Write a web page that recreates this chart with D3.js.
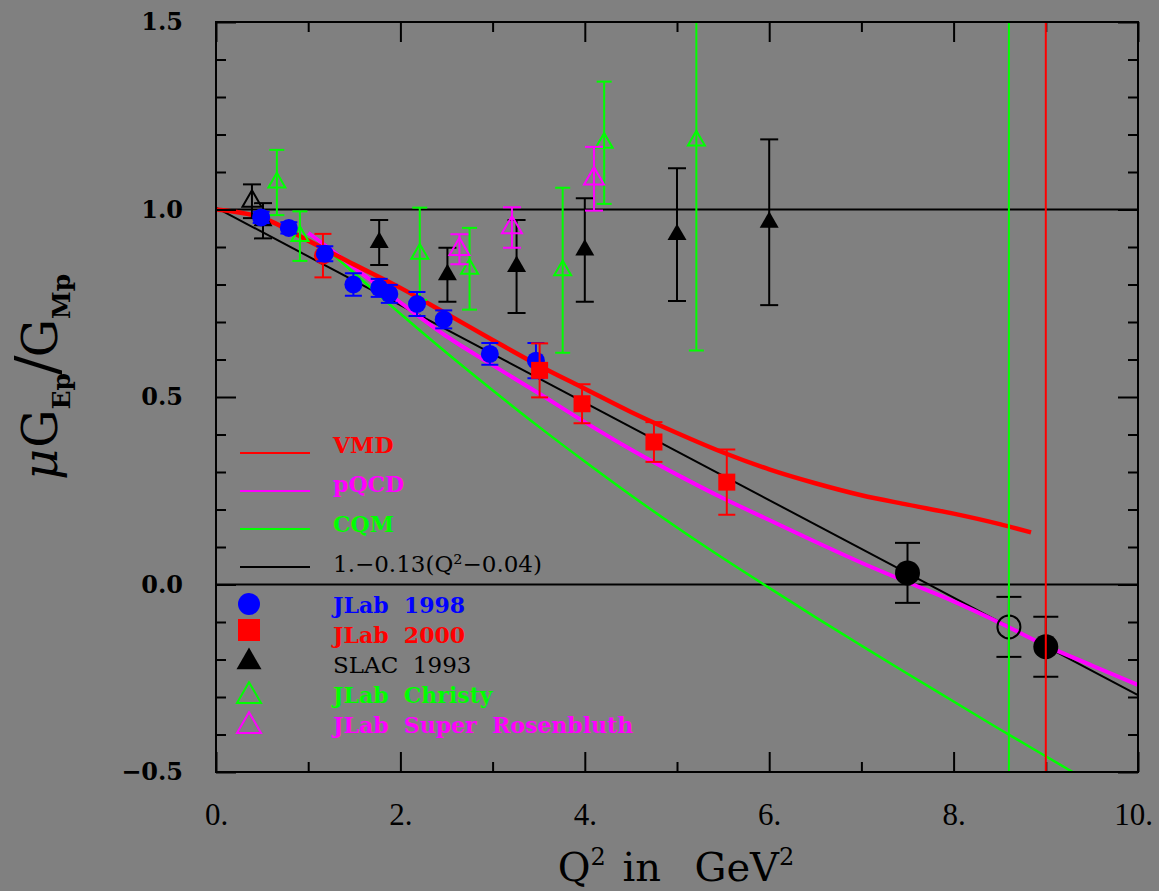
<!DOCTYPE html>
<html>
<head>
<meta charset="utf-8">
<script src="https://cdn.jsdelivr.net/npm/d3@7"></script>
<style>
    body { margin: 0; background: #808080; }
    svg { display: block; }
</style>
</head>
<body>
<div id="chart"></div>
<script>
const width = 1159, height = 891
const margin = ({top: 22, right: 21, bottom: 119, left: 216})

// axes
const xMajorTicks = [0, 2, 4, 6, 8, 10]
const xTickLabels = ["0.", "2.", "4.", "6.", "8.", "10."]
const yMajorTicks = [-0.5, 0, 0.5, 1, 1.5]
const yTickLabels = ["\u22120.5", "0.0", "0.5", "1.0", "1.5"]

// theory curves, [Q2, mu*GE/GM]
const vmdCurve = [[0, 1.0], [0.5, 0.978], [1.0, 0.917], [1.5, 0.853], [2.0, 0.791], [2.5, 0.722], [3.0, 0.652],
    [3.5, 0.584], [4.0, 0.522], [4.5, 0.46], [5.0, 0.404], [5.5, 0.352], [6.0, 0.307], [6.5, 0.27],
    [7.0, 0.238], [7.5, 0.213], [8.0, 0.189], [8.5, 0.161], [8.84, 0.139]]
const pqcdCurve = [[1.0, 0.938], [1.5, 0.845], [2.0, 0.752], [2.5, 0.662], [3.0, 0.585], [3.5, 0.51], [4.0, 0.433],
    [4.5, 0.36], [5.0, 0.293], [5.5, 0.23], [6.0, 0.172], [6.5, 0.114], [7.0, 0.058], [7.5, 0.006],
    [8.0, -0.045], [8.5, -0.102], [9.0, -0.163], [9.5, -0.216], [10.0, -0.268]]
const cqmCurve = [[1.0, 0.938], [1.5, 0.83], [2.0, 0.722], [2.5, 0.618], [3.0, 0.518], [3.5, 0.421], [4.0, 0.328],
    [4.5, 0.238], [5.0, 0.152], [5.5, 0.07], [6.0, -0.009], [6.5, -0.087], [7.0, -0.163], [7.5, -0.238],
    [8.0, -0.312], [8.5, -0.386], [9.0, -0.458], [9.5, -0.53]]
const fitLine = [[0, 1.005], [10, -0.295]]

// data points, [Q2, ratio, error]
const jlab1998 = [[0.49, 0.979, 0.015], [0.79, 0.951, 0.015], [1.18, 0.882, 0.02], [1.49, 0.800, 0.03],
    [1.77, 0.791, 0.024], [1.88, 0.775, 0.024], [2.18, 0.748, 0.032], [2.47, 0.707, 0.024],
    [2.97, 0.615, 0.029], [3.47, 0.597, 0.047]]
const jlab2000Low = [[1.16, 0.877, 0.058]]
const jlab2000 = [[3.51, 0.571, 0.072], [3.97, 0.482, 0.052], [4.75, 0.380, 0.053], [5.54, 0.273, 0.087]]
const slac1993 = [[0.51, 0.970, 0.047], [1.77, 0.912, 0.06], [2.51, 0.826, 0.072], [3.26, 0.848, 0.124],
    [4.00, 0.892, 0.138], [5.00, 0.933, 0.177], [6.00, 0.966, 0.221]]
const slacOpen = [[0.39, 1.022, 0.045]]
const christy = [[0.66, 1.072, 0.087], [0.91, 0.929, 0.066], [2.21, 0.882, 0.123], [2.75, 0.842, 0.109],
    [3.76, 0.838, 0.22], [4.21, 1.178, 0.163], [5.21, 1.184, 0.56]]
const superRosenbluth = [[2.64, 0.894, 0.04], [3.21, 0.952, 0.054], [4.10, 1.082, 0.085]]
const projectedFilled = [[7.50, 0.031, 0.08], [9.00, -0.166, 0.08]]
const projectedOpen = [[8.60, -0.113, 0.08]]

const hLines = [1.0, 0.0]
const vLines = [8.6, 9.0]

const curveLabels = ["VMD", "pQCD", "CQM", "1.\u22120.13(Q\u00b2\u22120.04)"]
const pointLabels = ["JLab\u00a0\u00a01998", "JLab\u00a0\u00a02000", "SLAC\u00a0\u00a01993", "JLab\u00a0\u00a0Christy",
    "JLab\u00a0\u00a0Super\u00a0\u00a0Rosenbluth"]

const serif = "'DejaVu Serif', 'Liberation Serif', serif"

const xScale = d3.scaleLinear().domain([0, 10]).range([margin.left, width - margin.right])
const yScale = d3.scaleLinear().domain([-0.5, 1.5]).range([height - margin.bottom, margin.top])
// error bars that run off the frame stop at its edge
const yClamped = yScale.copy().clamp(true)

const svg = d3.select("#chart").append("svg")
    .attr("width", width)
    .attr("height", height)

svg.append("rect")
    .attr("width", width).attr("height", height)
    .attr("fill", "#808080")

svg.append("clipPath").attr("id", "plot-clip")
    .append("rect")
    .attr("x", xScale(0)).attr("y", yScale(1.5))
    .attr("width", xScale(10) - xScale(0)).attr("height", yScale(-0.5) - yScale(1.5))

const plot = svg.append("g").attr("clip-path", "url(#plot-clip)")

const line = d3.line()
    .curve(d3.curveMonotoneX)
    .x(d => xScale(d[0]))
    .y(d => yScale(d[1]))

plot.selectAll(".hline")
    .data(hLines)
    .enter().append("line")
    .attr("x1", xScale(0)).attr("x2", xScale(10))
    .attr("y1", d => yScale(d)).attr("y2", d => yScale(d))
    .attr("stroke", "#000").attr("stroke-width", 2)

function drawCurve(data, color, w) {
    plot.append("path")
        .datum(data)
        .attr("fill", "none")
        .attr("stroke", color)
        .attr("stroke-width", w)
        .attr("d", line)
}

drawCurve(fitLine, "#000", 2)
drawCurve(cqmCurve, "#00ff00", 2.5)
drawCurve(pqcdCurve, "#ff00ff", 4)
drawCurve(vmdCurve, "#ff0000", 4.5)

function errorBars(data, color, cap) {
    const g = plot.append("g").attr("stroke", color).attr("stroke-width", 2)
    g.selectAll(".bar").data(data).enter().append("line")
        .attr("x1", d => xScale(d[0])).attr("x2", d => xScale(d[0]))
        .attr("y1", d => yClamped(d[1] + d[2])).attr("y2", d => yClamped(d[1] - d[2]))
    g.selectAll(".capTop").data(data).enter().append("line")
        .attr("x1", d => xScale(d[0]) - cap / 2).attr("x2", d => xScale(d[0]) + cap / 2)
        .attr("y1", d => yClamped(d[1] + d[2])).attr("y2", d => yClamped(d[1] + d[2]))
    g.selectAll(".capBottom").data(data).enter().append("line")
        .attr("x1", d => xScale(d[0]) - cap / 2).attr("x2", d => xScale(d[0]) + cap / 2)
        .attr("y1", d => yClamped(d[1] - d[2])).attr("y2", d => yClamped(d[1] - d[2]))
}

function markers(data, type, size, fill, stroke) {
    plot.append("g").selectAll("path").data(data).enter().append("path")
        .attr("transform", d => `translate(${xScale(d[0])},${yScale(d[1])})`)
        .attr("d", d3.symbol().type(type).size(size))
        .attr("fill", fill)
        .attr("stroke", stroke)
        .attr("stroke-width", stroke === "none" ? 0 : 2)
}

// triangle of side s -> area
const tri = s => Math.sqrt(3) / 4 * s * s

errorBars(slacOpen, "#000", 18)
markers(slacOpen, d3.symbolTriangle, tri(19), "none", "#000")

errorBars(slac1993, "#000", 18)
markers(slac1993, d3.symbolTriangle, tri(19), "#000", "none")

errorBars(christy, "#00ff00", 15)
markers(christy, d3.symbolTriangle, tri(17), "none", "#00ff00")

errorBars(superRosenbluth, "#ff00ff", 18)
markers(superRosenbluth, d3.symbolTriangle, tri(20), "none", "#ff00ff")

errorBars(jlab2000Low, "#ff0000", 17)
markers(jlab2000Low, d3.symbolCircle, Math.PI * 81, "#ff0000", "none")

errorBars(jlab1998, "#0000ff", 17)
markers(jlab1998, d3.symbolCircle, Math.PI * 81, "#0000ff", "none")

errorBars(jlab2000, "#ff0000", 17)
markers(jlab2000, d3.symbolSquare, 17 * 17, "#ff0000", "none")

errorBars(projectedFilled, "#000", 25)
markers(projectedFilled, d3.symbolCircle, Math.PI * 12.5 * 12.5, "#000", "none")
errorBars(projectedOpen, "#000", 25)
markers(projectedOpen, d3.symbolCircle, Math.PI * 11.5 * 11.5, "none", "#000")

// frame and ticks on all four sides
const xMinor = d3.range(1, 10, 2)
const yMinor = d3.range(-5, 15).filter(i => i % 5 !== 0).map(i => i / 10)
const x0 = xScale(0), x1 = xScale(10), y0 = yScale(-0.5), y1 = yScale(1.5)

function addAxis(axis, transform) {
    const g = svg.append("g")
        .attr("transform", transform)
        .call(axis)
    g.select(".domain").remove()
    g.selectAll(".tick line").attr("stroke", "#000").attr("stroke-width", 2)
    return g
}

const xAxis = addAxis(d3.axisBottom(xScale).tickValues(xMajorTicks).tickSize(-20).tickPadding(31)
    .tickFormat((d, i) => xTickLabels[i]), `translate(0,${y0})`)
xAxis.selectAll("text")
    .attr("font-family", "'Liberation Serif', serif").attr("font-size", 31).attr("fill", "#000")
    .attr("dx", d => d === 10 ? -5 : 0)
addAxis(d3.axisBottom(xScale).tickValues(xMinor).tickSize(-10).tickFormat(""), `translate(0,${y0})`)
addAxis(d3.axisTop(xScale).tickValues(xMajorTicks).tickSize(-20).tickFormat(""), `translate(0,${y1})`)
addAxis(d3.axisTop(xScale).tickValues(xMinor).tickSize(-10).tickFormat(""), `translate(0,${y1})`)

const yAxis = addAxis(d3.axisLeft(yScale).tickValues(yMajorTicks).tickSize(-20).tickPadding(33)
    .tickFormat((d, i) => yTickLabels[i]), `translate(${x0},0)`)
yAxis.selectAll("text")
    .attr("font-family", serif).attr("font-size", 24).attr("font-weight", "bold").attr("fill", "#000")
addAxis(d3.axisLeft(yScale).tickValues(yMinor).tickSize(-10).tickFormat(""), `translate(${x0},0)`)
addAxis(d3.axisRight(yScale).tickValues(yMajorTicks).tickSize(-20).tickFormat(""), `translate(${x1},0)`)
addAxis(d3.axisRight(yScale).tickValues(yMinor).tickSize(-10).tickFormat(""), `translate(${x1},0)`)

// vertical markers sit above the ticks
const vColors = ["#00ff00", "#ff0000"]
svg.append("g").attr("clip-path", "url(#plot-clip)")
    .selectAll("line")
    .data(vLines)
    .enter().append("line")
    .attr("x1", d => xScale(d)).attr("x2", d => xScale(d))
    .attr("y1", yScale(1.5)).attr("y2", yScale(-0.5))
    .attr("stroke", (d, i) => vColors[i]).attr("stroke-width", 2)

svg.append("rect")
    .attr("x", x0).attr("y", y1)
    .attr("width", x1 - x0).attr("height", y0 - y1)
    .attr("fill", "none").attr("stroke", "#000").attr("stroke-width", 2)

// axis titles
const xTitle = svg.append("text")
    .attr("x", 676).attr("y", 881)
    .attr("text-anchor", "middle")
    .attr("font-family", serif).attr("font-size", 40)
    .attr("word-spacing", 4)
    .attr("fill", "#000")
xTitle.append("tspan").text("Q")
xTitle.append("tspan").attr("font-size", 24).attr("dy", -16).text("2")
xTitle.append("tspan").attr("dy", 16).text("\u00a0in\u00a0\u00a0GeV")
xTitle.append("tspan").attr("font-size", 24).attr("dy", -16).text("2")

const yTitle = svg.append("text")
    .attr("transform", "translate(57,480) rotate(-90)")
    .attr("font-family", serif).attr("font-size", 48)
    .attr("fill", "#000")
yTitle.append("tspan").attr("font-style", "italic").text("\u03bc")
yTitle.append("tspan").attr("dx", 1).text("G")
yTitle.append("tspan").attr("font-size", 25).attr("font-weight", "bold").attr("dy", 13).text("Ep")
yTitle.append("tspan").attr("font-size", 58).attr("dy", -13).attr("dx", -2).text("/")
yTitle.append("tspan").attr("dx", -2).text("G")
yTitle.append("tspan").attr("font-size", 25).attr("font-weight", "bold").attr("dy", 13).text("Mp")

// legend
const legend = svg.append("g")
const curveColors = ["#ff0000", "#ff00ff", "#00ff00", "#000"]
const curveRows = [453, 491, 529, 567]
const curveText = [453, 492, 532, 572]
curveLabels.forEach((label, i) => {
    legend.append("line")
        .attr("x1", 240).attr("x2", 310)
        .attr("y1", curveRows[i]).attr("y2", curveRows[i])
        .attr("stroke", curveColors[i]).attr("stroke-width", 2)
    legend.append("text")
        .attr("x", 333).attr("y", curveText[i])
        .attr("font-family", serif).attr("font-size", i < 3 ? 22 : 23)
        .attr("font-weight", i < 3 ? "bold" : "normal")
        .attr("fill", curveColors[i])
        .text(label)
})

const pointColors = ["#0000ff", "#ff0000", "#000", "#00ff00", "#ff00ff"]
const pointRows = [604, 630, 662, 696, 726]
const pointText = [613, 643, 673, 703, 733]
const pointSymbols = [
    {type: d3.symbolCircle, size: Math.PI * 121, filled: true},
    {type: d3.symbolSquare, size: 22 * 22, filled: true},
    {type: d3.symbolTriangle, size: tri(25), filled: true},
    {type: d3.symbolTriangle, size: tri(24), filled: false},
    {type: d3.symbolTriangle, size: tri(24), filled: false},
]
pointLabels.forEach((label, i) => {
    const s = pointSymbols[i]
    legend.append("path")
        .attr("transform", `translate(249,${pointRows[i]})`)
        .attr("d", d3.symbol().type(s.type).size(s.size))
        .attr("fill", s.filled ? pointColors[i] : "none")
        .attr("stroke", s.filled ? "none" : pointColors[i])
        .attr("stroke-width", 2)
    legend.append("text")
        .attr("x", 333).attr("y", pointText[i])
        .attr("font-family", serif).attr("font-size", i === 2 ? 23 : 22)
        .attr("font-weight", i === 2 ? "normal" : "bold")
        .attr("fill", pointColors[i])
        .text(label)
})
</script>
</body>
</html>
